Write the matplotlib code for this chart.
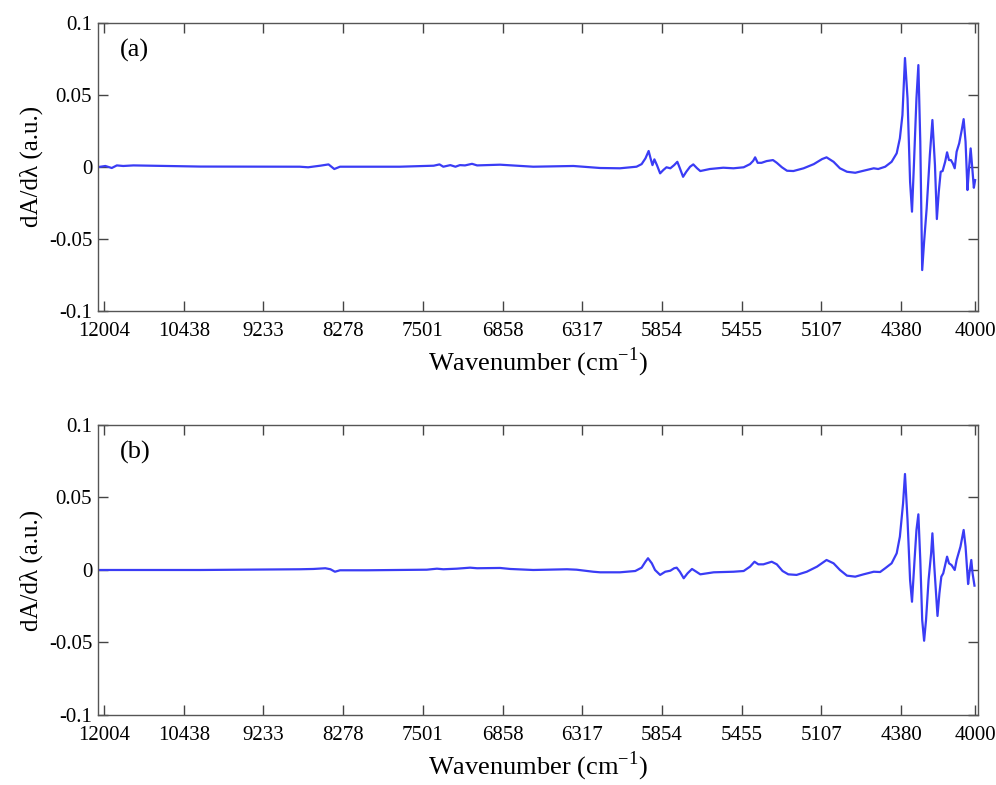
import matplotlib
matplotlib.use('Agg')
from matplotlib import pyplot as plt

# tick positions on the spectral axis and their wavenumber labels
tick_pos = [833, 958, 1083, 1208, 1333, 1458, 1583, 1708, 1833, 1958, 2083, 2199]
tick_labels = ['12004', '10438', '9233', '8278', '7501', '6858', '6317',
               '5854', '5455', '5107', '4380', '4000']

# first derivative spectrum, sample (a)
x_a = [826, 835, 845, 853, 863, 879, 984, 1140, 1153, 1172, 1185, 1194, 1203, 1297,
       1350, 1359, 1365, 1376, 1384, 1391, 1399, 1410, 1418, 1454, 1506, 1569, 1611,
       1642, 1668, 1676, 1682, 1687, 1690, 1693, 1696, 1700, 1705, 1710, 1715, 1721,
       1727, 1732, 1736, 1741, 1746, 1752, 1757, 1763, 1768, 1783, 1804, 1820, 1836,
       1846, 1851, 1854, 1858, 1864, 1872, 1882, 1888, 1896, 1904, 1914, 1930, 1946,
       1959, 1966, 1977, 1987, 1998, 2011, 2024, 2040, 2047, 2058, 2068, 2076, 2081,
       2085, 2089, 2093, 2097, 2100, 2103, 2107, 2110, 2113, 2116, 2119, 2123, 2128,
       2132, 2136, 2139, 2142, 2145, 2148, 2152, 2155, 2158, 2161, 2164, 2167, 2170,
       2174, 2178, 2181, 2184, 2187, 2189, 2192, 2195, 2197, 2199]
y_a = [0.0, 0.0006, -0.0008, 0.0010, 0.0006, 0.0010, 0.0002, 0.0001, -0.0003, 0.0008,
       0.0017, -0.0015, 0.0001, 0.0001, 0.0008, 0.0017, 0.0001, 0.0012, 0.0001, 0.0012,
       0.0010, 0.0021, 0.0010, 0.0015, 0.0001, 0.0006, -0.0008,
       -0.0010, 0.0001, 0.0019, 0.0059, 0.0110, 0.0059, 0.0012, 0.0052, 0.0012, -0.0045,
       -0.0022, -0.0003, -0.0010, 0.0012, 0.0035, -0.0010, -0.0069, -0.0034, 0.0001,
       0.0017, -0.0010, -0.0029, -0.0015, -0.0006, -0.0010, -0.0003, 0.0019, 0.0042,
       0.0066, 0.0028, 0.0028, 0.0040, 0.0047, 0.0028, -0.0003, -0.0027, -0.0029, -0.0010,
       0.0019, 0.0054, 0.0066, 0.0035, -0.0010, -0.0034, -0.0041, -0.0027, -0.0010,
       -0.0015, 0.0001, 0.0035, 0.0094, 0.0198, 0.0359, 0.0755, 0.0475, -0.0103, -0.0311,
       0.0012, 0.0475, 0.0706, 0.0174, -0.0716, -0.0519, -0.0288, 0.0082, 0.0325, 0.0012,
       -0.0362, -0.0173, -0.0034, -0.0029, 0.0035, 0.0101, 0.0047, 0.0047, 0.0024,
       -0.0010, 0.0105, 0.0163, 0.0255, 0.0331, 0.0174, -0.0161, -0.0034, 0.0128,
       -0.0034, -0.0145, -0.0092]

# first derivative spectrum, sample (b)
x_b = [826, 984, 1140, 1161, 1180, 1188, 1195, 1203, 1245, 1339, 1355, 1365, 1386,
       1407, 1418, 1454, 1470, 1506, 1559, 1574, 1600, 1611,
       1642, 1666, 1676, 1682, 1686, 1692, 1697, 1705, 1713, 1721, 1727, 1731, 1736,
       1742, 1748, 1755, 1760, 1768, 1789, 1820, 1836, 1846, 1853, 1859, 1867, 1880,
       1888, 1897, 1906, 1919, 1935, 1951, 1966, 1977, 1987, 1998, 2011, 2024, 2040,
       2050, 2058, 2068, 2076, 2081, 2086, 2089, 2093, 2097, 2100, 2104, 2107, 2110,
       2113, 2116, 2119, 2122, 2126, 2130, 2132, 2135, 2140, 2143, 2146, 2149, 2152,
       2155, 2158, 2162, 2167, 2170, 2176, 2181, 2184, 2188, 2190, 2193, 2195, 2198]
y_b = [0.0, 0.0, 0.0005, 0.0007, 0.0012, 0.0005, -0.0012, -0.0002, -0.0002, 0.0002,
       0.0009, 0.0005, 0.0009, 0.0016, 0.0012, 0.0014, 0.0007, 0.0, 0.0005, 0.0002,
       -0.0012, -0.0016,
       -0.0016, -0.0007, 0.0016, 0.0057, 0.0081, 0.0046, 0.0, -0.0034, -0.0012, -0.0005,
       0.0012, 0.0016, -0.0012, -0.0057, -0.0023, 0.0007, -0.0007, -0.0030, -0.0016,
       -0.0012, -0.0007, 0.0023, 0.0057, 0.0039, 0.0039, 0.0057, 0.0039, -0.0007,
       -0.0030, -0.0034, -0.0012, 0.0023, 0.0069, 0.0046, 0.0, -0.0039, -0.0046, -0.0030,
       -0.0012, -0.0014, 0.0012, 0.0046, 0.0115, 0.0230, 0.0460, 0.0662, 0.0345, -0.0069,
       -0.0219, 0.0069, 0.0276, 0.0384, 0.0069, -0.0345, -0.0488, -0.0345, -0.0069,
       0.0115, 0.0253, 0.0023, -0.0317, -0.0161, -0.0046, -0.0023, 0.0034, 0.0092,
       0.0046, 0.0034, 0.0, 0.0069, 0.0161, 0.0276, 0.0161, -0.0097, -0.0023, 0.0069,
       -0.0023, -0.0108]

y_ticks = [-0.1, -0.05, 0, 0.05, 0.1]
y_tick_labels = ['-0.1', '-0.05', '0', '0.05', '0.1']

plt.rcParams['font.family'] = ['Liberation Serif', 'DejaVu Serif']
plt.rcParams['mathtext.fontset'] = 'custom'
plt.rcParams['mathtext.rm'] = 'Liberation Serif'

fig = plt.figure(figsize=(9.96, 7.85), dpi=100)
ax_a = fig.add_axes([0.0981, 0.6038, 0.8835, 0.3673])
ax_b = fig.add_axes([0.0981, 0.0892, 0.8835, 0.3694])

for ax, x, y, tag in [(ax_a, x_a, y_a, '(a)'), (ax_b, x_b, y_b, '(b)')]:
    ax.plot(x, y, color='#3a3cf5', linewidth=1.6, solid_joinstyle='round')
    ax.set_xlim(823, 2203)
    ax.set_ylim(-0.1, 0.1)
    ax.set_xticks(tick_pos, tick_labels)
    ax.set_yticks(y_ticks, y_tick_labels)
    ax.tick_params(direction='in', top=True, right=True, length=7, width=1,
                   color='#444444', labelsize=15)
    ax.tick_params(axis='x', pad=8)
    ax.tick_params(axis='y', pad=4)
    for s in ax.spines.values():
        s.set_color('#555555')
        s.set_linewidth(1.0)
    ax.set_xlabel('Wavenumber (cm$^{\\mathrm{-1}}$)', fontsize=19, labelpad=3)
    ax.set_ylabel('dA/d\u03bb (a.u.)', fontsize=18, labelpad=4)
    ax.text(0.025, 0.905, tag, transform=ax.transAxes, fontsize=19, va='center')

fig.savefig('out.png', dpi=100)
